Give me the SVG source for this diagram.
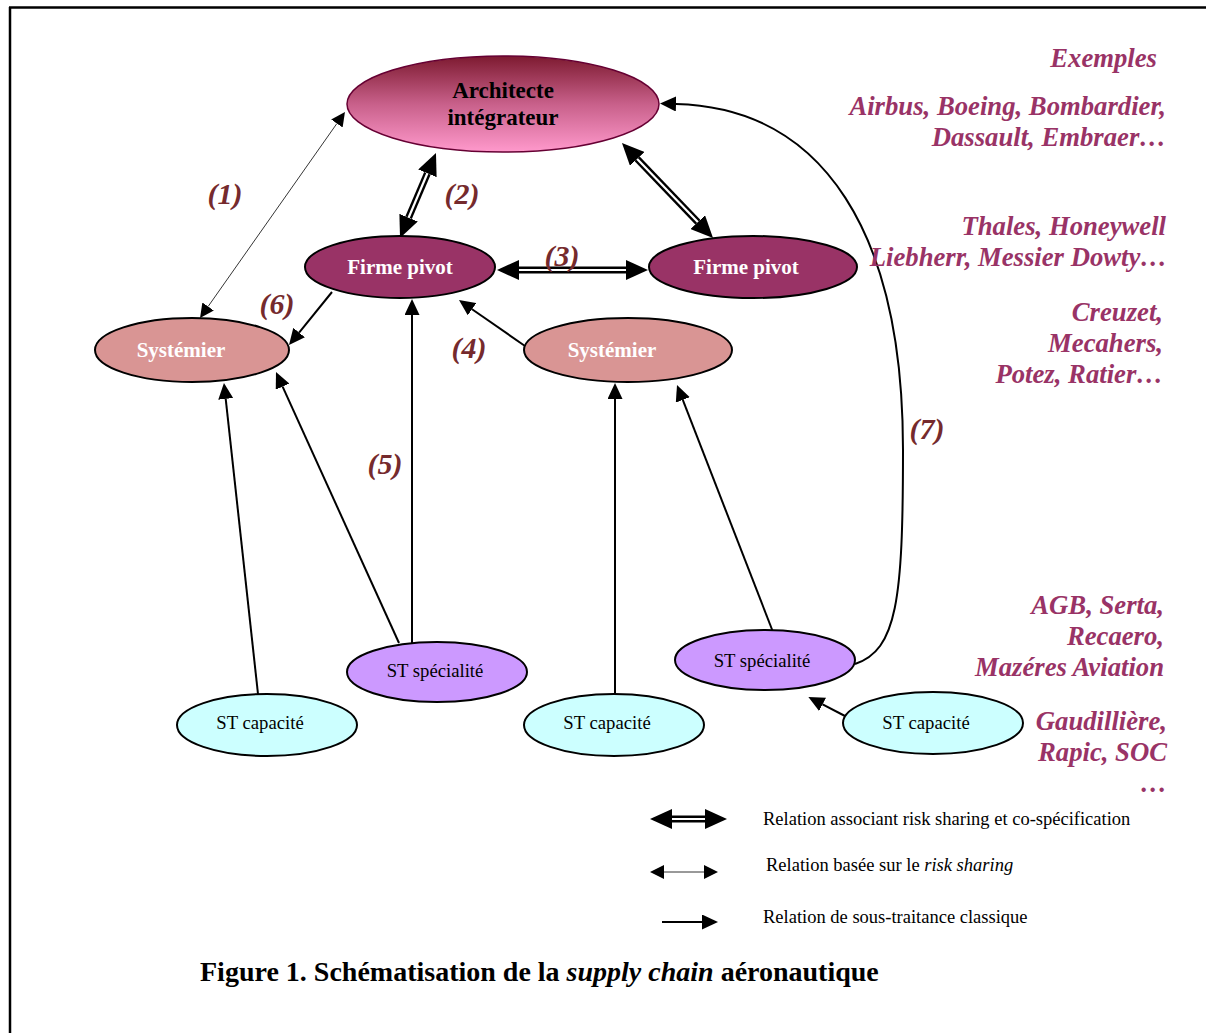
<svg xmlns="http://www.w3.org/2000/svg" width="1206" height="1033" viewBox="0 0 1206 1033">
<defs>
<style>
text{font-family:"Liberation Serif","Times New Roman",serif;}
.node{stroke:#000;stroke-width:2;}
.nb{font-weight:bold;font-size:21px;fill:#fff;text-anchor:middle;}
.nr{font-size:18.7px;fill:#000;text-anchor:middle;}
.lab{font-weight:bold;font-style:italic;font-size:30px;fill:#752a2d;text-anchor:middle;}
.ex{font-weight:bold;font-style:italic;font-size:26.7px;fill:#993366;text-anchor:end;}
.leg{font-size:18.5px;fill:#000;}
.dbl{stroke:#000;stroke-width:7;fill:none;marker-start:url(#hb);marker-end:url(#hb);}
.dblw{stroke:#fff;stroke-width:2.2;fill:none;}
.thin{stroke:#000;stroke-width:0.8;fill:none;marker-start:url(#ht);marker-end:url(#ht);}
.cls{stroke:#000;stroke-width:2;fill:none;marker-end:url(#hc);}
</style>
<linearGradient id="gArch" x1="0" y1="0" x2="0" y2="1">
<stop offset="0" stop-color="#7d1a30"/>
<stop offset="0.5" stop-color="#c8608a"/>
<stop offset="1" stop-color="#ff99cc"/>
</linearGradient>
<marker id="hb" viewBox="0 -10 22 20" refX="0" refY="0" markerWidth="22" markerHeight="20" markerUnits="userSpaceOnUse" orient="auto-start-reverse">
<path d="M0,-10 L22,0 L0,10 z" fill="#000"/>
</marker>
<marker id="ht" viewBox="0 -7 14 14" refX="0" refY="0" markerWidth="14" markerHeight="14" markerUnits="userSpaceOnUse" orient="auto-start-reverse">
<path d="M0,-7 L14,0 L0,7 z" fill="#000"/>
</marker>
<marker id="hc" viewBox="0 -7.5 16 15" refX="0" refY="0" markerWidth="16" markerHeight="15" markerUnits="userSpaceOnUse" orient="auto">
<path d="M0,-7.5 L16,0 L0,7.5 z" fill="#000"/>
</marker>
</defs>
<rect x="0" y="0" width="1206" height="1033" fill="#fff"/>
<g id="frame" stroke="#000" stroke-width="2.5">
<line x1="9" y1="7.5" x2="1206" y2="7.5"/>
<line x1="10" y1="7" x2="10" y2="1033"/>
</g>

<g id="connectors">
<line class="thin" x1="208.1" y1="306.5" x2="336.9" y2="123.5"/>
<line class="dbl" x1="408.6" y1="217.7" x2="427.4" y2="173.3"/>
<line class="dblw" x1="408.6" y1="217.7" x2="427.4" y2="173.3"/>
<line class="dbl" x1="637.2" y1="158.9" x2="697.8" y2="222.1"/>
<line class="dblw" x1="637.2" y1="158.9" x2="697.8" y2="222.1"/>
<line class="dbl" x1="519" y1="270" x2="626" y2="270"/>
<line class="dblw" x1="519" y1="270" x2="626" y2="270"/>
<line class="cls" x1="332" y1="292" x2="299.1" y2="332.6"/>
<line class="cls" x1="525" y1="346" x2="472.1" y2="309.2"/>
<line class="cls" x1="412" y1="643" x2="412" y2="315"/>
<line class="cls" x1="258" y1="694" x2="225.7" y2="398.9"/>
<line class="cls" x1="399" y1="643" x2="282.6" y2="386.6"/>
<line class="cls" x1="615" y1="694" x2="615" y2="399"/>
<line class="cls" x1="773" y1="632" x2="682.8" y2="399.9"/>
<line class="cls" x1="845" y1="716" x2="822.6" y2="704.4"/>
<path class="cls" d="M855,664 C897,650 903,600 903,450 C903,235 825,108 676,104"/>
</g>

<g id="n-architecte">
<ellipse cx="503" cy="104" rx="156" ry="48" fill="url(#gArch)" stroke="#660033" stroke-width="1.5"/>
<text x="503" y="98" font-weight="bold" font-size="23" text-anchor="middle" fill="#000">Architecte</text>
<text x="503" y="125" font-weight="bold" font-size="23" text-anchor="middle" fill="#000">intégrateur</text>
</g>
<g id="n-firme1">
<ellipse class="node" cx="400" cy="267" rx="95" ry="31" fill="#993366"/>
<text class="nb" x="400" y="274">Firme pivot</text>
</g>
<g id="n-firme2">
<ellipse class="node" cx="753" cy="267" rx="104" ry="31" fill="#993366"/>
<text class="nb" x="746" y="274">Firme pivot</text>
</g>
<g id="n-sys1">
<ellipse class="node" cx="192" cy="350" rx="97" ry="32" fill="#d99594"/>
<text class="nb" x="181" y="357">Systémier</text>
</g>
<g id="n-sys2">
<ellipse class="node" cx="628" cy="350" rx="104" ry="32" fill="#d99594"/>
<text class="nb" x="612" y="357">Systémier</text>
</g>
<g id="n-spec1">
<ellipse class="node" cx="437" cy="672" rx="90" ry="30" fill="#cc99ff"/>
<text class="nr" x="435" y="677">ST spécialité</text>
</g>
<g id="n-spec2">
<ellipse class="node" cx="765" cy="660" rx="90" ry="30" fill="#cc99ff"/>
<text class="nr" x="762" y="667">ST spécialité</text>
</g>
<g id="n-cap1">
<ellipse class="node" cx="267" cy="725" rx="90" ry="31" fill="#ccffff" stroke-width="1.5"/>
<text class="nr" x="260" y="729">ST capacité</text>
</g>
<g id="n-cap2">
<ellipse class="node" cx="614" cy="725" rx="90" ry="31" fill="#ccffff" stroke-width="1.5"/>
<text class="nr" x="607" y="729">ST capacité</text>
</g>
<g id="n-cap3">
<ellipse class="node" cx="933" cy="723" rx="90" ry="31" fill="#ccffff" stroke-width="1.5"/>
<text class="nr" x="926" y="729">ST capacité</text>
</g>

<g id="labels">
<text class="lab" x="225" y="204">(1)</text>
<text class="lab" x="462" y="204">(2)</text>
<text class="lab" x="562" y="266">(3)</text>
<text class="lab" x="469" y="358">(4)</text>
<text class="lab" x="385" y="474">(5)</text>
<text class="lab" x="277" y="314">(6)</text>
<text class="lab" x="927" y="439">(7)</text>
</g>

<g id="examples">
<text class="ex" x="1157" y="67">Exemples</text>
<text class="ex" x="1166" y="115">Airbus, Boeing, Bombardier,</text>
<text class="ex" x="1166" y="146">Dassault, Embraer…</text>
<text class="ex" x="1166" y="235">Thales, Honeywell</text>
<text class="ex" x="1167" y="266">Liebherr, Messier Dowty…</text>
<text class="ex" x="1163" y="321">Creuzet,</text>
<text class="ex" x="1163" y="352">Mecahers,</text>
<text class="ex" x="1163" y="383">Potez, Ratier…</text>
<text class="ex" x="1164" y="614">AGB, Serta,</text>
<text class="ex" x="1164" y="645">Recaero,</text>
<text class="ex" x="1164" y="676">Mazéres Aviation</text>
<text class="ex" x="1167" y="730">Gaudillière,</text>
<text class="ex" x="1167" y="761">Rapic, SOC</text>
<text class="ex" x="1167" y="792">…</text>
</g>

<g id="legend">
<line class="dbl" x1="672" y1="819" x2="705" y2="819"/>
<line class="dblw" x1="672" y1="819" x2="705" y2="819"/>
<line class="thin" x1="664" y1="872" x2="704" y2="872" stroke-width="1"/>
<line class="cls" x1="662" y1="922" x2="702" y2="922"/>
<text class="leg" x="763" y="825">Relation associant risk sharing et co-spécification</text>
<text class="leg" x="766" y="871">Relation basée sur le <tspan font-style="italic">risk sharing</tspan></text>
<text class="leg" x="763" y="923">Relation de sous-traitance classique</text>
</g>

<g id="caption">
<text x="200" y="981" font-weight="bold" font-size="28" fill="#000">Figure 1. Schématisation de la <tspan font-style="italic">supply chain</tspan> aéronautique</text>
</g>
</svg>
